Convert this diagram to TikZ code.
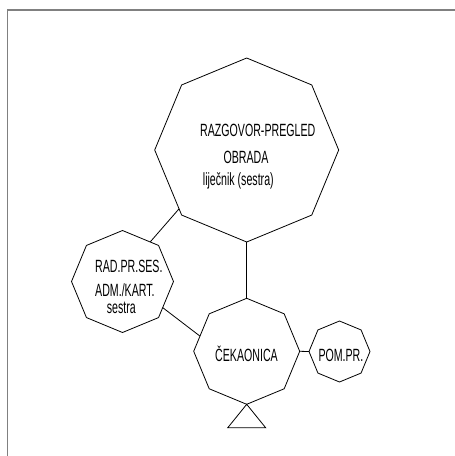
\documentclass[tikz,border=0pt]{standalone}
\usepackage{fontspec}
\newfontfamily\nf[FakeStretch=0.6]{Liberation Sans}
\usetikzlibrary{shapes.geometric}
\begin{document}
\begin{tikzpicture}[x=1pt,y=-1pt,
  oct/.style={draw=black,line width=0.8pt,regular polygon,regular polygon sides=8,
    shape border rotate=22.5,inner sep=0pt,outer sep=0pt,minimum size=#1},
  lbl/.style={inner sep=0pt,anchor=base west,font=\nf\fontsize{17.7}{20}\selectfont},
  conn/.style={draw=black,line width=0.8pt},
  frame/.style={draw=gray,line width=1.3pt}]
\useasboundingbox (0,0) rectangle (455,456);
\draw[frame] (7.3,456) -- (7.3,10) -- (455,10);
\node[oct=184] (big) at (246.7,150) {};
\node[oct=102] (rad) at (122.5,281.5) {};
\node[oct=106] (cek) at (246.7,351.3) {};
\node[oct=61]  (pom) at (339.5,351.5) {};
\node[lbl] (t1) at (200,136.7) {RAZGOVOR-PREGLED};
\node[lbl] (t2) at (223.3,163.3) {OBRADA};
\node[lbl] (t3) at (202.7,185.7) {liječnik (sestra)};
\node[lbl] (t4) at (95,272.3) {RAD.PR.SES.};
\node[lbl] (t5) at (95,296.7) {ADM./KART.};
\node[lbl] (t6) at (106.7,313.3) {sestra};
\node[lbl] (t7) at (215,361.7) {ČEKAONICA};
\node[lbl] (t8) at (318.3,361.7) {POM.PR.};
\draw[conn] (big.south) -- (cek.north);
\draw[conn] (big.221) -- (rad.55);
\draw[conn] (rad.327.6) -- (cek.162.5);
\draw[conn] (cek.east) -- (pom.west);
\draw[conn] (cek.south) -- ++(-19,23.5) -- ++(38,0) -- cycle;
\end{tikzpicture}
\end{document}
